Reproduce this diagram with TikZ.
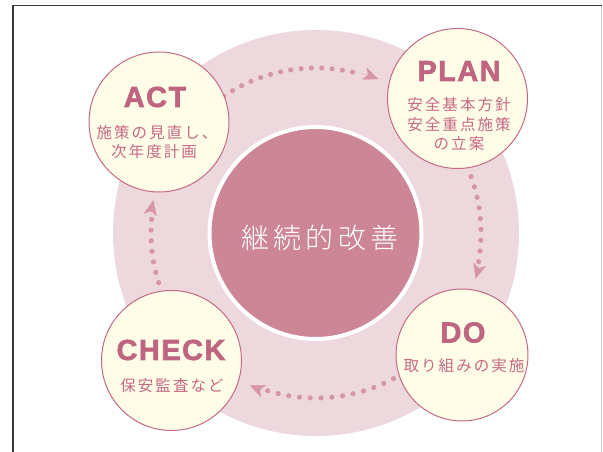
\documentclass[tikz,border=0pt]{standalone}
\usepackage{fontspec}
\setmainfont{Liberation Sans}
\newfontfamily\titlefont[LetterSpace=5,FakeBold=2]{Liberation Sans Bold}
\newfontfamily\cjksp[LetterSpace=13]{Noto Sans CJK JP}
\newfontfamily\cjkcenter[LetterSpace=15]{Noto Sans CJK JP Light}
\usetikzlibrary{calc,arrows.meta}
\definecolor{ringc}{HTML}{EDD9DD}
\definecolor{innerc}{HTML}{CC8696}
\definecolor{cream}{HTML}{FFFCE8}
\definecolor{circb}{HTML}{C46A84}
\definecolor{ttlc}{HTML}{BF6580}
\definecolor{subc}{HTML}{C46A84}
\definecolor{dotc}{HTML}{D796A6}
\definecolor{framedark}{HTML}{3A3A3A}
\definecolor{framelight}{HTML}{C8C8C8}
\begin{document}
\begin{tikzpicture}[x=1pt,y=1pt,
  smallc/.style={circle, draw=circb, line width=1pt, fill=cream, minimum size=#1, inner sep=0pt},
  ttl/.style={text=ttlc, font=\titlefont\fontsize{29}{31}\selectfont, inner sep=0pt},
  sub/.style={text=subc, font=\cjksp\fontsize{15.5}{19}\selectfont, inner sep=0pt},
  dotarrow/.style={dotc, line width=0.1pt, -{Stealth[length=15pt,width=13pt,inset=4pt]}}
]
\useasboundingbox (0,0) rectangle (603,452);
\fill[white] (0,0) rectangle (603,452);
% frame
\draw[framelight, line width=1.5pt] (601.5,446.5) -- (601.5,0);
\draw[framedark, line width=1.3pt] (13,0) -- (13,446.5) -- (602,446.5);
% big ring
\node[circle, fill=ringc, minimum size=406pt, inner sep=0pt] (ring) at (316,219) {};
\coordinate (c) at (316,219);
% core
\node[circle, fill=innerc, draw=white, line width=4pt, minimum size=212pt, inner sep=0pt] (core) at (315.5,219) {};
\node[text=white, font=\cjkcenter\fontsize{28}{30}\selectfont, inner sep=0pt] (coretxt) at (320,214) {継続的改善};
% dots
\foreach \i in {0,...,13} \fill[dotc] ($(c)+({124-\i*3.6}:165)$) circle (2.6);
\foreach \i in {0,...,8} \fill[dotc] ($(c)+({20-\i*3.75}:165)$) circle (2.6);
\foreach \i in {0,...,12} \fill[dotc] ($(c)+({-62-\i*3.75}:165)$) circle (2.6);
\foreach \i in {0,...,6} \fill[dotc] ($(c)+({197.5-\i*3.7}:165)$) circle (2.6);
% arrow tips
\draw[dotarrow] ($(c)+(75:166)$) arc (75:68:166);
\draw[dotarrow] ($(c)+(-9:166)$) arc (-9:-16:166);
\draw[dotarrow] ($(c)+(-106.5:166)$) arc (-106.5:-113.5:166);
\draw[dotarrow] ($(c)+(175.6:166)$) arc (175.6:168.6:166);
% small circles
\node[smallc=140pt] (act) at (159,330) {};
\node[smallc=140pt] (plan) at (457.5,353.5) {};
\node[smallc=132pt] (do) at (462,97) {};
\node[smallc=140pt] (check) at (171.5,91.5) {};
% texts
\node[ttl] (actt) at (155,355) {ACT};
\node[sub] (acts1) at (157,319) {施策の見直し、};
\node[sub] (acts2) at (154,300) {次年度計画};
\node[ttl] (plant) at (459,381) {PLAN};
\node[sub] (plans1) at (459,347) {安全基本方針};
\node[sub] (plans2) at (459,327) {安全重点施策};
\node[sub] (plans3) at (459,308) {の立案};
\node[ttl] (dot) at (463,119.5) {DO};
\node[sub] (dos) at (464,86) {取り組みの実施};
\node[ttl] (checkt) at (171,102) {CHECK};
\node[sub] (checks) at (172,66) {保安監査など};
\end{tikzpicture}
\end{document}
